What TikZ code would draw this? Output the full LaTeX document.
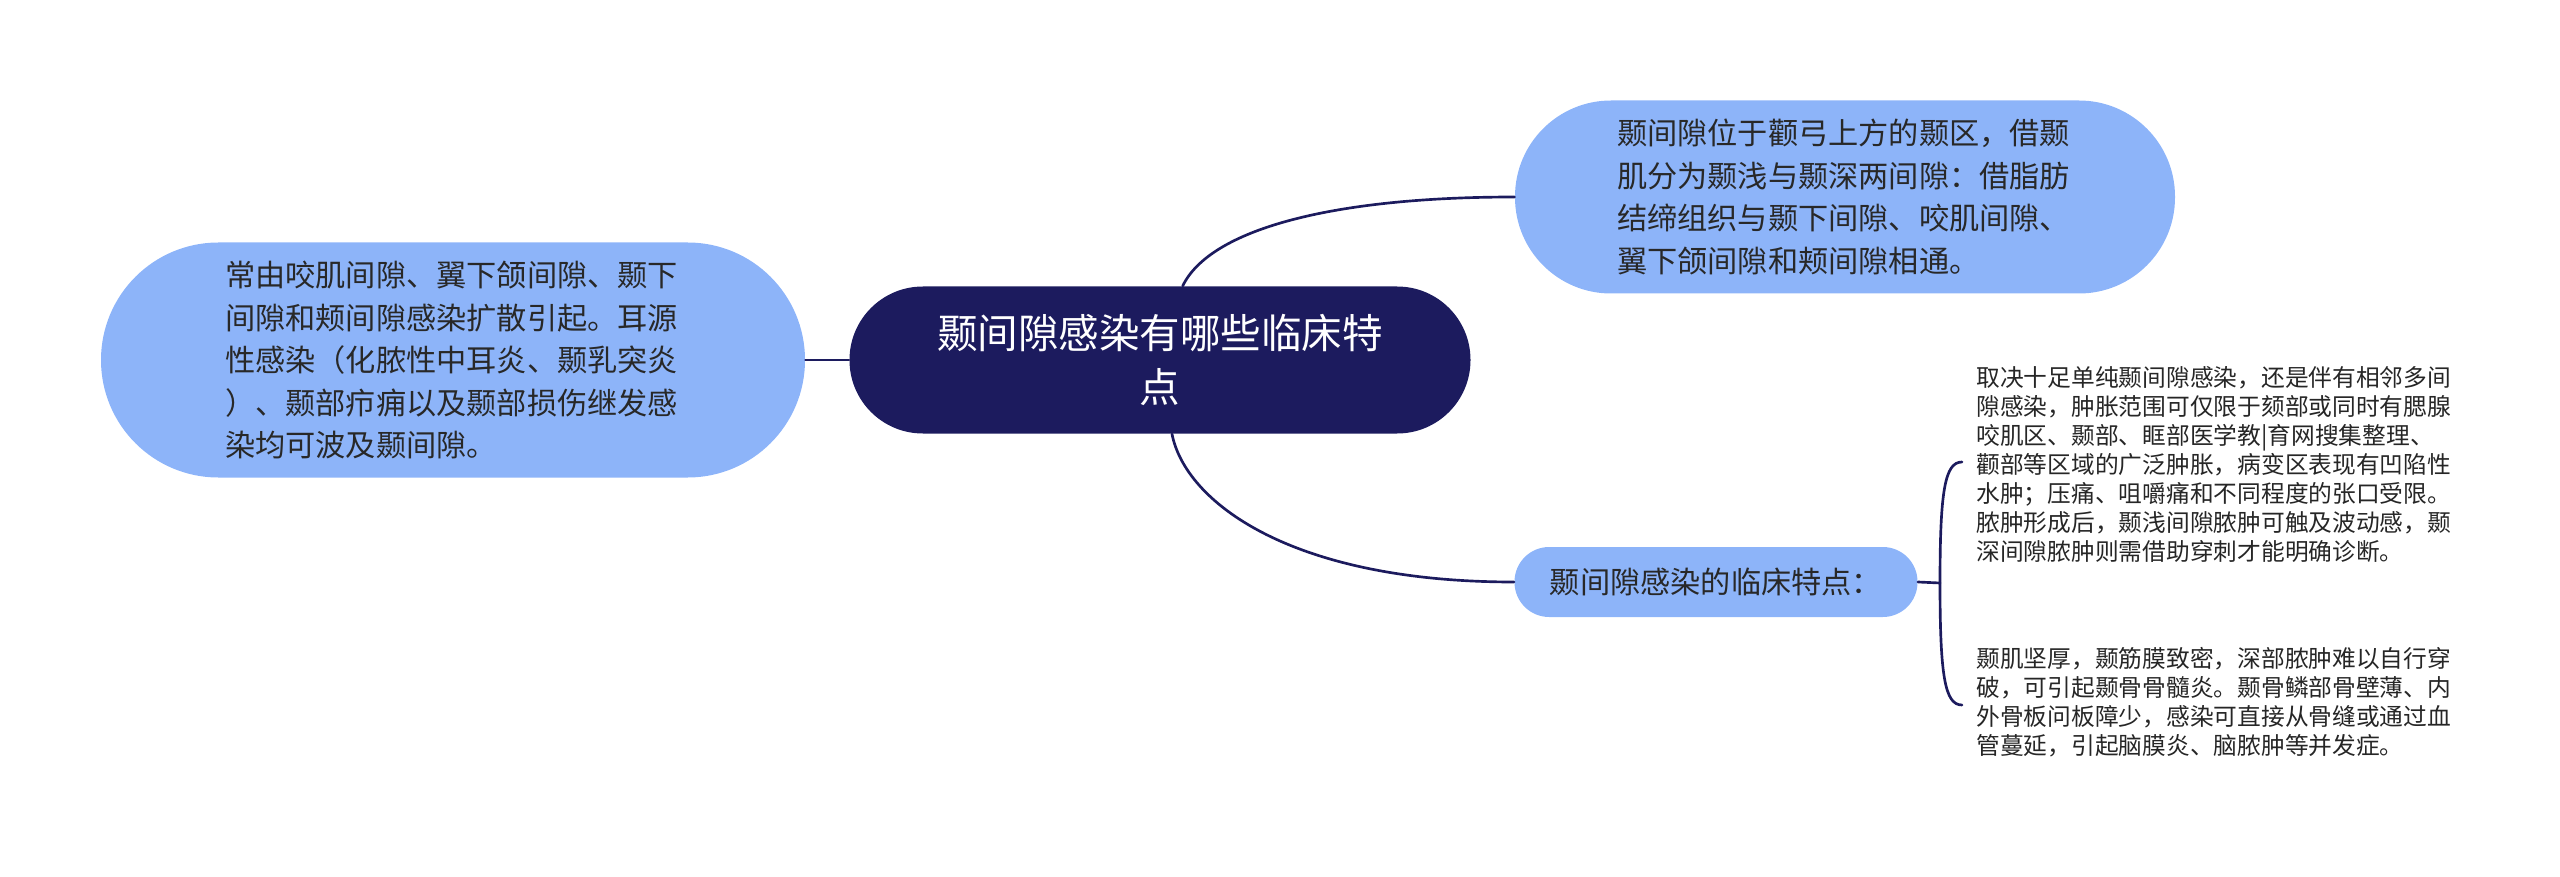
\documentclass[tikz,border=0pt]{standalone}
\usepackage{fontspec}
\newfontfamily\cjk{Noto Sans CJK SC}

\tikzset{every picture/.style={line width=0.75pt}}
\definecolor{rootnavy}{RGB}{28,27,94}
\definecolor{topicblue}{RGB}{141,180,249}
\definecolor{topictext}{RGB}{40,40,40}

\tikzset{
  rootnode/.style={draw=none,fill=rootnavy,text=white,inner sep=0pt,align=center,text width=340pt,
    font=\cjk\fontsize{30.4pt}{40.5pt}\selectfont},
  topicnode/.style={draw=none,fill=topicblue,text=topictext,inner sep=0pt,
    font=\cjk\fontsize{22.65pt}{31.9pt}\selectfont},
  leaftext/.style={inner sep=0pt,anchor=west,align=left,text width=360pt,text=black!85,
    font=\cjk\fontsize{17.8pt}{21.75pt}\selectfont},
  link/.style={draw=rootnavy,line width=2pt,line cap=round}
}

\begin{document}
\begin{tikzpicture}[x=0.75pt,y=0.75pt,yscale=-1,xscale=1]
	\useasboundingbox (0,0) rectangle (2560,877);

	% Root
	\node [rootnode,minimum width=465.75pt,minimum height=110.25pt,rounded corners=55pt] (root) at (1160,360) {颞间隙感染有哪些临床特\\点};
	% Left topic
	\node [topicnode,align=left,text width=342pt,minimum width=528pt,minimum height=176.25pt,rounded corners=88pt] (cause) at (453,360) {常由咬肌间隙、翼下颌间隙、颞下\\间隙和颊间隙感染扩散引起。耳源\\性感染（化脓性中耳炎、颞乳突炎\\）、颞部疖痈以及颞部损伤继发感\\染均可波及颞间隙。};
	% Top right topic
	\node [topicnode,align=left,text width=342pt,minimum width=495pt,minimum height=144.75pt,rounded corners=72pt] (site) at (1845,197) {颞间隙位于颧弓上方的颞区，借颞\\肌分为颞浅与颞深两间隙：借脂肪\\结缔组织与颞下间隙、咬肌间隙、\\翼下颌间隙和颊间隙相通。};
	% Middle right topic
	\node [topicnode,align=center,minimum width=302.25pt,minimum height=52.5pt,rounded corners=26pt] (signs) at (1716,582) {颞间隙感染的临床特点：};

	% Leaf texts
	\node [leaftext] (swell) at (1976,465) {取决十足单纯颞间隙感染，还是伴有相邻多间\\隙感染，肿胀范围可仅限于颏部或同时有腮腺\\咬肌区、颞部、眶部医学教|育网搜集整理、\\颧部等区域的广泛肿胀，病变区表现有凹陷性\\水肿；压痛、咀嚼痛和不同程度的张口受限。\\脓肿形成后，颞浅间隙脓肿可触及波动感，颞\\深间隙脓肿则需借助穿刺才能明确诊断。};
	\node [leaftext] (spread) at (1976,702) {颞肌坚厚，颞筋膜致密，深部脓肿难以自行穿\\破，可引起颞骨骨髓炎。颞骨鳞部骨壁薄、内\\外骨板问板障少，感染可直接从骨缝或通过血\\管蔓延，引起脑膜炎、脑脓肿等并发症。};

	% Brace points
	\coordinate (brace) at (1940,583);
	\coordinate (bracetop) at (1962,462);
	\coordinate (bracebot) at (1962,705);

	% Connectors
	\draw [link] (cause.east) -- (root.west);
	\draw [link] ([xshift=17pt]root.north) .. controls +(27,-56) and +(-185,0) .. (site.west);
	\draw [link] ([xshift=9pt]root.south) .. controls +(13,67) and +(-225,0) .. (signs.west);
	\draw [link] (signs.east) -- (brace);
	\draw [link] (bracetop) .. controls (1945,462) and (1940,490) .. (brace) .. controls (1940,677) and (1945,705) .. (bracebot);

\end{tikzpicture}
\end{document}
